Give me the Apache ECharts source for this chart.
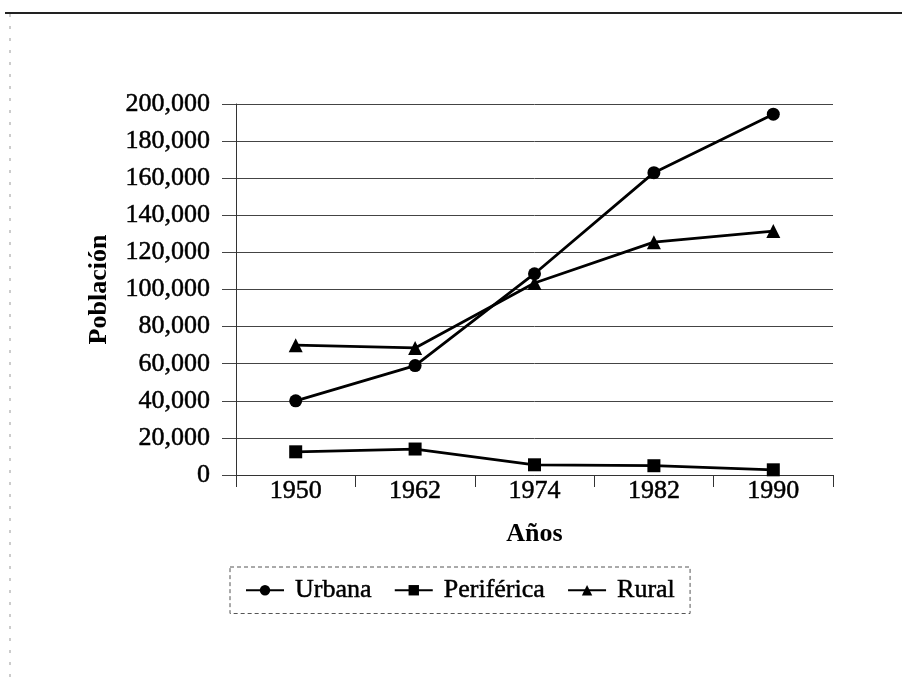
<!DOCTYPE html>
<html>
<head>
<meta charset="utf-8">
<script src="https://cdn.jsdelivr.net/npm/echarts@6/dist/echarts.min.js"></script>
<style>
  html, body { margin: 0; padding: 0; background: #fff; }
  #chart { width: 902px; height: 686px; }
</style>
</head>
<body>
<div id="chart"></div>
<script>
var years = ['1950', '1962', '1974', '1982', '1990'];
var urbana = [40000, 59000, 108500, 163000, 194500];
var periferica = [12500, 14000, 5500, 5000, 2800];
var rural = [70000, 68500, 103500, 125500, 131500];
var yTicks = [0, 200000, 20000]; // min, max, interval

var font = '"Liberation Serif", "Times New Roman", serif';
var chart = echarts.init(document.getElementById('chart'));

// texto algo mas grueso, como en el escaneo
var heavy = { textBorderColor: '#000', textBorderWidth: 0.5 };

function serie(name, data, symbol, size) {
    return {
        name: name,
        type: 'line',
        data: data,
        symbol: symbol,
        symbolSize: size,
        showAllSymbol: true,
        color: '#000',
        lineStyle: { color: '#000', width: 2.8 },
        itemStyle: { color: '#000' }
    };
}

chart.setOption({
    backgroundColor: '#fff',
    animation: false,
    textStyle: { fontFamily: font, color: '#000' },
    graphic: [
        // marco escaneado: linea superior y borde izquierdo punteado
        { type: 'line', shape: { x1: 5, y1: 13, x2: 902, y2: 13 },
          style: { stroke: '#222', lineWidth: 2 } },
        { type: 'line', shape: { x1: 10, y1: 14, x2: 10, y2: 686 },
          style: { stroke: '#999', lineWidth: 1, lineDash: [3, 9] } }
    ],
    grid: { left: 236, right: 69, top: 104, bottom: 211, containLabel: false },
    legend: {
        left: 230,
        top: 567,
        padding: [10, 15, 10, 15],
        itemWidth: 38,
        itemHeight: 13,
        itemGap: 22,
        borderColor: '#555',
        borderWidth: 1,
        borderType: [4, 3],
        textStyle: Object.assign({ fontFamily: font, fontSize: 26, color: '#000', padding: [0, 0, 0, 6] }, heavy),
        data: ['Urbana', 'Periférica', 'Rural']
    },
    xAxis: {
        type: 'category',
        data: years,
        boundaryGap: true,
        name: 'Años',
        nameLocation: 'middle',
        nameGap: 46,
        nameTextStyle: { fontFamily: font, fontSize: 26, fontWeight: 'bold', color: '#000' },
        axisLine: { lineStyle: { color: '#333', width: 1 } },
        axisTick: { show: true, length: 12, interval: 0, lineStyle: { color: '#333' } },
        axisLabel: Object.assign({ fontFamily: font, fontSize: 26, color: '#000', margin: 3 }, heavy),
        splitLine: { show: false }
    },
    yAxis: {
        type: 'value',
        min: yTicks[0],
        max: yTicks[1],
        interval: yTicks[2],
        name: 'Población',
        nameLocation: 'middle',
        nameGap: 124,
        nameRotate: 90,
        nameTextStyle: { fontFamily: font, fontSize: 26, fontWeight: 'bold', color: '#000' },
        axisLine: { show: true, lineStyle: { color: '#333', width: 1 } },
        axisTick: { show: true, length: 14, lineStyle: { color: '#444' } },
        axisLabel: Object.assign({
            fontFamily: font, fontSize: 26, color: '#000', margin: 26,
            formatter: function (v) { return v.toLocaleString('en-US'); }
        }, heavy),
        splitLine: { show: true, lineStyle: { color: '#444', width: 1 } }
    },
    series: [
        serie('Urbana', urbana, 'circle', 13),
        serie('Periférica', periferica, 'rect', 13),
        serie('Rural', rural, 'triangle', 14)
    ]
});
</script>
</body>
</html>
